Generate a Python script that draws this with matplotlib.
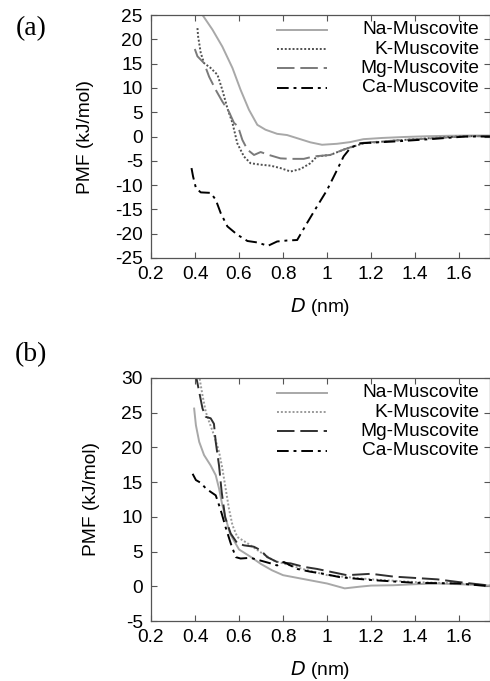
import matplotlib
matplotlib.use("Agg")
import matplotlib.pyplot as plt
from matplotlib.ticker import FuncFormatter

plt.rcParams['font.family'] = ['Liberation Sans', 'DejaVu Sans']
plt.rcParams['axes.unicode_minus'] = False

labels = ['Na-Muscovite', 'K-Muscovite', 'Mg-Muscovite', 'Ca-Muscovite']

# ---- panel (a) ----
na_a_d = [0.425, 0.434, 0.479, 0.524, 0.570, 0.607, 0.645, 0.683, 0.720, 0.773, 0.818, 0.864, 0.924,
          0.977, 1.045, 1.105, 1.165, 1.25, 1.35, 1.45, 1.55, 1.65, 1.74]
na_a_v = [26.5, 25.0, 22.0, 18.5, 14.1, 9.6, 5.5, 2.4, 1.4, 0.55, 0.3, -0.35, -1.2,
          -1.7, -1.5, -1.15, -0.55, -0.3, -0.1, 0.05, 0.15, 0.2, 0.2]
k_a_d = [0.411, 0.414, 0.426, 0.441, 0.471, 0.502, 0.524, 0.547, 0.570, 0.592, 0.622, 0.652, 0.698,
         0.743, 0.788, 0.834, 0.879, 0.924, 0.954, 1.014, 1.075, 1.165, 1.316, 1.467, 1.617, 1.74]
k_a_v = [22.3, 20.6, 17.2, 15.1, 14.1, 12.7, 9.6, 5.8, 2.8, -1.4, -4.1, -5.5, -5.8,
         -6.0, -6.5, -7.2, -6.7, -5.5, -4.1, -3.8, -2.7, -1.4, -0.8, -0.35, 0.05, 0.1]
mg_a_d = [0.399, 0.411, 0.441, 0.464, 0.494, 0.524, 0.554, 0.577, 0.595, 0.615, 0.638, 0.668, 0.698,
          0.736, 0.788, 0.834, 0.894, 0.939, 1.014, 1.075, 1.165, 1.316, 1.467, 1.617, 1.74]
mg_a_v = [18.0, 16.5, 15.1, 12.3, 9.6, 7.2, 5.1, 2.8, 2.1, -0.7, -2.7, -3.8, -3.2,
          -3.8, -4.5, -4.6, -4.6, -4.1, -3.8, -2.7, -1.3, -0.8, -0.4, 0.0, 0.1]
ca_a_d = [0.384, 0.391, 0.404, 0.426, 0.471, 0.494, 0.517, 0.547, 0.592, 0.638, 0.683, 0.731, 0.773,
          0.818, 0.864, 0.909, 0.954, 1.0, 1.045, 1.075, 1.105, 1.15, 1.316, 1.467, 1.63, 1.74]
ca_a_v = [-6.5, -8.2, -10.6, -11.5, -11.6, -13.0, -15.8, -18.5, -20.2, -21.5, -21.8, -22.5, -21.6,
          -21.4, -21.3, -17.8, -14.4, -11.0, -6.9, -4.1, -2.4, -1.4, -1.0, -0.55, 0.0, 0.0]

# ---- panel (b) ----
na_b_d = [0.396, 0.404, 0.419, 0.441, 0.471, 0.494, 0.509, 0.524, 0.539, 0.56, 0.6, 0.65, 0.7,
          0.75, 0.8, 0.9, 1.0, 1.08, 1.15, 1.2, 1.3, 1.4, 1.5, 1.6, 1.74]
na_b_v = [25.6, 23.2, 20.8, 18.9, 17.4, 16.0, 14.1, 11.7, 9.8, 7.5, 5.3, 4.3, 3.2,
          2.3, 1.6, 1.0, 0.4, -0.3, -0.05, 0.1, 0.15, 0.3, 0.4, 0.3, 0.1]
k_b_d = [0.415, 0.434, 0.449, 0.464, 0.486, 0.509, 0.524, 0.539, 0.554, 0.570, 0.592, 0.638, 0.698,
         0.758, 0.8, 0.9, 1.0, 1.1, 1.2, 1.3, 1.4, 1.5, 1.6, 1.74]
k_b_v = [31.0, 27.5, 25.1, 23.7, 21.8, 19.4, 17.0, 14.1, 11.2, 8.8, 7.1, 6.2, 4.9,
         3.7, 3.3, 2.4, 1.6, 1.3, 1.0, 0.8, 0.6, 0.5, 0.4, 0.1]
mg_b_d = [0.400, 0.419, 0.434, 0.449, 0.471, 0.486, 0.494, 0.509, 0.521, 0.537, 0.562, 0.592, 0.622,
          0.667, 0.698, 0.728, 0.773, 0.834, 0.894, 0.954, 1.014, 1.09, 1.2, 1.3, 1.4, 1.5, 1.6, 1.74]
mg_b_v = [31.0, 28.0, 25.6, 24.4, 24.2, 23.4, 20.8, 17.4, 13.6, 9.9, 7.6, 6.2, 5.9,
          5.7, 5.2, 4.2, 3.5, 3.3, 2.8, 2.5, 2.1, 1.6, 1.8, 1.4, 1.2, 1.0, 0.6, 0.1]
ca_b_d = [0.389, 0.404, 0.426, 0.449, 0.471, 0.494, 0.509, 0.521, 0.539, 0.562, 0.585, 0.607, 0.652,
          0.698, 0.743, 0.773, 0.803, 0.864, 0.924, 0.984, 1.06, 1.2, 1.4, 1.6, 1.74]
ca_b_v = [16.2, 15.3, 14.9, 14.1, 13.6, 13.1, 11.7, 10.5, 8.5, 6.2, 4.2, 4.0, 4.1,
          3.7, 3.3, 3.0, 3.5, 2.5, 2.1, 1.8, 1.3, 0.9, 0.5, 0.4, 0.0]

x_ticks = [0.2, 0.4, 0.6, 0.8, 1.0, 1.2, 1.4, 1.6]

styles_a = [
    dict(color='#a8a8a8', ls='-'),
    dict(color='#505050', ls=(0, (1, 1))),
    dict(color='#7a7a7a', ls=(0, (9, 3))),
    dict(color='#000000', ls=(0, (6, 2.5, 1.5, 2.5))),
]
styles_b = [
    dict(color='#a8a8a8', ls='-'),
    dict(color='#9a9a9a', ls=(0, (1, 1))),
    dict(color='#303030', ls=(0, (9, 3))),
    dict(color='#000000', ls=(0, (6, 2.5, 1.5, 2.5))),
]

fs = 13.8
fig = plt.figure(figsize=(4.9, 6.81), dpi=100)


def draw_panel(rect, series, styles, ylim, yticks, tag, tag_y):
    ax = fig.add_axes(rect)
    for (d, v), st in zip(series, styles):
        ax.plot(d, v, lw=1.4, **st)
    ax.set_xlim(0.2, 1.74)
    ax.set_ylim(*ylim)
    ax.set_xticks(x_ticks)
    ax.set_yticks(yticks)
    ax.xaxis.set_major_formatter(FuncFormatter(lambda x, p: '%g' % x))
    ax.tick_params(direction='in', top=True, right=True, length=4, width=0.8,
                   color='#555555', labelsize=fs, pad=6)
    for s in ax.spines.values():
        s.set_color('#555555')
        s.set_linewidth(0.9)
    ax.set_ylabel('PMF (kJ/mol)', fontsize=fs, labelpad=15)
    ax.set_xlabel('$D$ (nm)', fontsize=fs, labelpad=9)
    # gnuplot-style key: sample on the left, text right aligned
    rows = [0.94, 0.86, 0.78, 0.70]
    for lab, st, ry in zip(labels, styles, rows):
        ax.plot([0.372, 0.519], [ry, ry], transform=ax.transAxes, lw=1.4, **st)
        ax.text(0.968, ry, lab, transform=ax.transAxes, ha='right', va='center', fontsize=fs)
    fig.text(31 / 490, 1 - tag_y / 681, tag, fontsize=20, family='Liberation Serif',
             ha='center', va='center')
    return ax


draw_panel([151 / 490, 1 - 258 / 681, 339 / 490, 243 / 681],
           [(na_a_d, na_a_v), (k_a_d, k_a_v), (mg_a_d, mg_a_v), (ca_a_d, ca_a_v)],
           styles_a, (-25, 25), list(range(-25, 30, 5)), '(a)', 29)
draw_panel([151 / 490, 1 - 621 / 681, 339 / 490, 243 / 681],
           [(na_b_d, na_b_v), (k_b_d, k_b_v), (mg_b_d, mg_b_v), (ca_b_d, ca_b_v)],
           styles_b, (-5, 30), list(range(-5, 35, 5)), '(b)', 355)

fig.savefig('out.png', dpi=100)
